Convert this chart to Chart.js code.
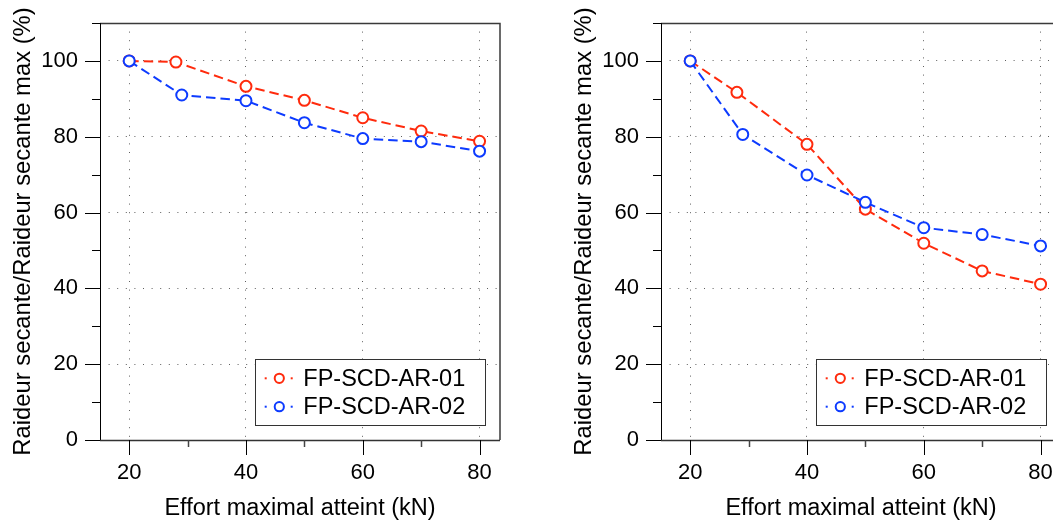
<!DOCTYPE html>
<html><head><meta charset="utf-8">
<script src="https://cdn.jsdelivr.net/npm/chart.js@4/dist/chart.umd.min.js"></script>
<style>
html,body{margin:0;padding:0;background:#fff;overflow:hidden;width:1053px;height:520px;position:relative;}
.wrap{position:absolute;top:0;width:530px;height:520px;}
canvas{display:block;}
</style></head><body>
<div class="wrap" style="left:0px"><canvas id="c1" width="530" height="520"></canvas></div>
<div class="wrap" style="left:561px"><canvas id="c2" width="530" height="520"></canvas></div>
<script>
const seriesLabels = ['FP-SCD-AR-01', 'FP-SCD-AR-02'];
const leftRedX  = [20, 28, 40, 50, 60, 70, 80];
const leftRedY  = [100, 99.7, 93.3, 89.6, 85.0, 81.5, 78.8];
const leftBlueX = [20, 29, 40, 50, 60, 70, 80];
const leftBlueY = [100, 91.0, 89.5, 83.7, 79.5, 78.7, 76.2];
const rightRedX  = [20, 28, 40, 50, 60, 70, 80];
const rightRedY  = [100, 91.7, 78.0, 60.9, 51.9, 44.6, 41.1];
const rightBlueX = [20, 29, 40, 50, 60, 70, 80];
const rightBlueY = [100, 80.6, 69.9, 62.7, 56.0, 54.2, 51.2];
const xMajorTicks = [20, 40, 60, 80];
const xMinorTicks = [30, 50, 70];
const yMajorTicks = [0, 20, 40, 60, 80, 100];
const yMinorTicks = [10, 30, 50, 70, 90, 110];
const xTitle = 'Effort maximal atteint (kN)';
const yTitle = 'Raideur secante/Raideur secante max (%)';

const RED = '#ff2b0d';
const BLUE = '#0d3bff';
const GRID = 'rgba(40,40,40,0.75)';
const FONT = "'Liberation Sans', Arial, Helvetica, sans-serif";

const framePlugin = {
  id: 'frame',
  afterDraw(chart) {
    const {ctx, chartArea: a, scales: {x, y}} = chart;
    ctx.save();
    ctx.strokeStyle = '#3a3a3a'; ctx.lineWidth = 1.5;
    ctx.beginPath();
    ctx.moveTo(a.left, a.top + 0.5); ctx.lineTo(a.right, a.top + 0.5);
    ctx.lineTo(a.right, a.bottom);
    ctx.stroke();
    ctx.strokeStyle = '#000'; ctx.lineWidth = 1;
    ctx.beginPath(); ctx.moveTo(a.left + 0.5, a.top); ctx.lineTo(a.left + 0.5, a.bottom); ctx.stroke();
    ctx.strokeStyle = '#333'; ctx.lineWidth = 1.5;
    ctx.beginPath(); ctx.moveTo(a.left, a.bottom + 0.5); ctx.lineTo(a.right, a.bottom + 0.5); ctx.stroke();
    ctx.strokeStyle = '#000'; ctx.lineWidth = 1;
    yMajorTicks.forEach(v => { const p = Math.round(y.getPixelForValue(v)) + 0.5;
      ctx.beginPath(); ctx.moveTo(a.left - 15, p); ctx.lineTo(a.left, p); ctx.stroke(); });
    yMinorTicks.forEach(v => { const p = Math.round(y.getPixelForValue(v)) + 0.5;
      ctx.beginPath(); ctx.moveTo(a.left - 8, p); ctx.lineTo(a.left, p); ctx.stroke(); });
    xMajorTicks.forEach(v => { const p = Math.round(x.getPixelForValue(v)) + 0.5;
      ctx.beginPath(); ctx.moveTo(p, a.bottom); ctx.lineTo(p, a.bottom + 15); ctx.stroke(); });
    ctx.strokeStyle = '#444'; ctx.lineWidth = 1.5;
    xMinorTicks.forEach(v => { const p = Math.round(x.getPixelForValue(v)) + 0.5;
      ctx.beginPath(); ctx.moveTo(p, a.bottom); ctx.lineTo(p, a.bottom + 7); ctx.stroke(); });
    // legend
    const L = a.right - 245, R = a.right - 15.5, T = a.top + 336, B = a.bottom - 15.5;
    ctx.fillStyle = '#fff'; ctx.fillRect(L, T, R - L, B - T);
    ctx.strokeStyle = '#333'; ctx.lineWidth = 1;
    ctx.strokeRect(Math.round(L) + 0.5, Math.round(T) + 0.5, Math.round(R - L), Math.round(B - T));
    const ds = chart.data.datasets;
    [0, 1].forEach(i => {
      const d = ds.find(dd => dd.label === seriesLabels[i]);
      const cy = T + 19.3 + i * 28.4;
      const cx = L + 24.3;
      ctx.fillStyle = d.borderColor;
      ctx.fillRect(cx - 14.6, cy - 1, 2, 2);
      ctx.fillRect(cx + 11.4, cy - 1, 2, 2);
      ctx.strokeStyle = d.borderColor; ctx.lineWidth = 2;
      ctx.beginPath(); ctx.arc(cx, cy, 4.6, 0, Math.PI * 2); ctx.stroke();
      ctx.fillStyle = '#000';
      ctx.font = "23.5px " + FONT;
      ctx.textBaseline = 'middle'; ctx.textAlign = 'left';
      ctx.fillText(d.label, L + 48.3, cy + 1);
    });
    ctx.restore();
  }
};

function makeChart(id, redX, redY, blueX, blueY) {
  const pts = (xs, ys) => xs.map((v, i) => ({x: v, y: ys[i]}));
  const common = {
    borderWidth: 2, borderDash: [9.5, 5], pointRadius: 5.5, pointBorderWidth: 2,
    pointBackgroundColor: '#fff', fill: false, tension: 0, showLine: true
  };
  return new Chart(document.getElementById(id), {
    type: 'line',
    data: {
      datasets: [
        Object.assign({label: seriesLabels[0], data: pts(redX, redY), borderColor: RED, pointBorderColor: RED, order: 1}, common),
        Object.assign({label: seriesLabels[1], data: pts(blueX, blueY), borderColor: BLUE, pointBorderColor: BLUE, order: 0}, common)
      ]
    },
    options: {
      responsive: false, animation: false, devicePixelRatio: 1,
      layout: {padding: {top: 23, right: 30, left: 0, bottom: 0}},
      plugins: {legend: {display: false}, tooltip: {enabled: false}},
      scales: {
        x: {
          type: 'linear', min: 15, max: 83.5,
          afterBuildTicks: s => { s.ticks = xMajorTicks.map(v => ({value: v})); },
          afterFit: s => { s.height = 80; s.paddingLeft = 0; s.paddingRight = 0; },
          grid: {drawTicks: false, color: GRID, lineWidth: 1},
          border: {display: false, dash: [1, 7.6]},
          ticks: {padding: 20, color: '#000', font: {family: FONT, size: 22}, maxRotation: 0},
          title: {display: true, text: xTitle, color: '#000', font: {family: FONT, size: 23.5}, padding: {top: 0, bottom: -3}}
        },
        y: {
          type: 'linear', min: 0, max: 110,
          afterBuildTicks: s => { s.ticks = yMajorTicks.map(v => ({value: v})); },
          afterFit: s => { s.width = 100; s.paddingTop = 0; s.paddingBottom = 0; },
          grid: {drawTicks: false, color: GRID, lineWidth: 1},
          border: {display: false, dash: [1, 7.6]},
          ticks: {padding: 22, color: '#000', font: {family: FONT, size: 22}},
          title: {display: true, text: yTitle, color: '#000', font: {family: FONT, size: 23.8}, padding: {top: 9, bottom: 0}}
        }
      }
    },
    plugins: [framePlugin]
  });
}

makeChart('c1', leftRedX, leftRedY, leftBlueX, leftBlueY);
makeChart('c2', rightRedX, rightRedY, rightBlueX, rightBlueY);
</script>
</body></html>
